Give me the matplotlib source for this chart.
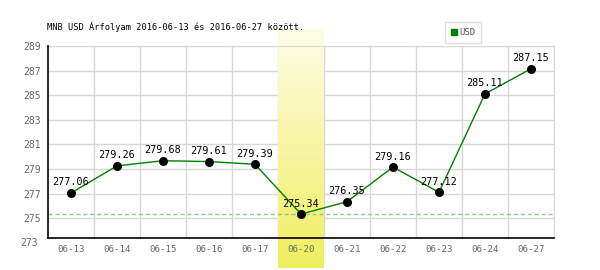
import numpy as np
import matplotlib.pyplot as plt
from matplotlib.lines import Line2D
from matplotlib.colors import LinearSegmentedColormap

dates = ['06-13', '06-14', '06-15', '06-16', '06-17', '06-20',
         '06-21', '06-22', '06-23', '06-24', '06-27']
rates = [277.06, 279.26, 279.68, 279.61, 279.39, 275.34,
         276.35, 279.16, 277.12, 285.11, 287.15]
yticks = [273, 275, 277, 279, 281, 283, 285, 287, 289]
highlight = '06-20'
title = 'MNB USD Árfolyam 2016-06-13 és 2016-06-27 között.'

mono = 'DejaVu Sans Mono'

fig = plt.figure(figsize=(6, 2.7), dpi=100)
ax = fig.add_axes([48 / 600, 1 - 238 / 270, 506 / 600, 192 / 270])
ax.patch.set_alpha(0)

x = np.arange(len(dates))
ymin, ymax = 273.4, 289

# gridlines between categories
for gx in np.arange(-0.5, len(dates), 1.0)[1:]:
    ax.axvline(gx, color='#d8d8d8', lw=1, zorder=0)
for gy in yticks[1:]:
    ax.axhline(gy, color='#d8d8d8', lw=1, zorder=0)

# highlighted day band with gradient
hi = dates.index(highlight)
grad = np.linspace(0, 1, 100).reshape(-1, 1)
cmap = LinearSegmentedColormap.from_list('band', ['#fdfde6', '#f0ee5e'])
ax.imshow(grad, cmap=cmap, aspect='auto', extent=(hi - 0.5, hi + 0.5, 270.95, 290.36),
          origin='upper', zorder=1, clip_on=False)

# minimum line
ax.axhline(min(rates), color='#88cc88', lw=1, ls=(0, (3, 2)), zorder=2)

ax.plot(x, rates, color='#008000', lw=1, zorder=3)
ax.scatter(x, rates, s=30, color='black', zorder=4)
for xi, r in zip(x, rates):
    ax.annotate(f'{r:.2f}', (xi, r), xytext=(0, 4), textcoords='offset points',
                ha='center', va='bottom', fontsize=7.3, family=mono, color='black', zorder=5)

ax.set_xlim(-0.5, len(dates) - 0.5)
ax.set_ylim(ymin, ymax)
ax.set_xticks(x)
ax.set_xticklabels(dates, family=mono, fontsize=6.6, color='#666666')
ax.set_yticks(yticks[1:])
ax.set_yticklabels([str(t) for t in yticks[1:]], family=mono, fontsize=7, color='#666666')
ax.text(-0.02, yticks[0], str(yticks[0]), transform=ax.get_yaxis_transform(), ha='right',
        va='center', family=mono, fontsize=7, color='#666666', clip_on=False)
ax.tick_params(length=0, pad=5)

for s in ['top', 'right']:
    ax.spines[s].set_color('#d8d8d8')
for s in ['left', 'bottom']:
    ax.spines[s].set_color('black')
    ax.spines[s].set_linewidth(1.2)
    ax.spines[s].set_zorder(6)

fig.text(47 / 600, 1 - 27 / 270, title, family=mono, fontsize=6.2, va='center', ha='left')

handle = Line2D([], [], marker='s', color='#008000', ls='', markersize=5)
leg = fig.legend([handle], ['USD'], loc='upper left', bbox_to_anchor=(445 / 600, 1 - 22 / 270),
                 frameon=True, fancybox=False, edgecolor='#d8d8d8', handletextpad=0.1,
                 handlelength=0.8, borderpad=0.65, borderaxespad=0,
                 prop={'family': mono, 'size': 6.5})
for t in leg.get_texts():
    t.set_color('#555555')
leg.get_frame().set_linewidth(1)

fig.savefig('out.png', dpi=100)
